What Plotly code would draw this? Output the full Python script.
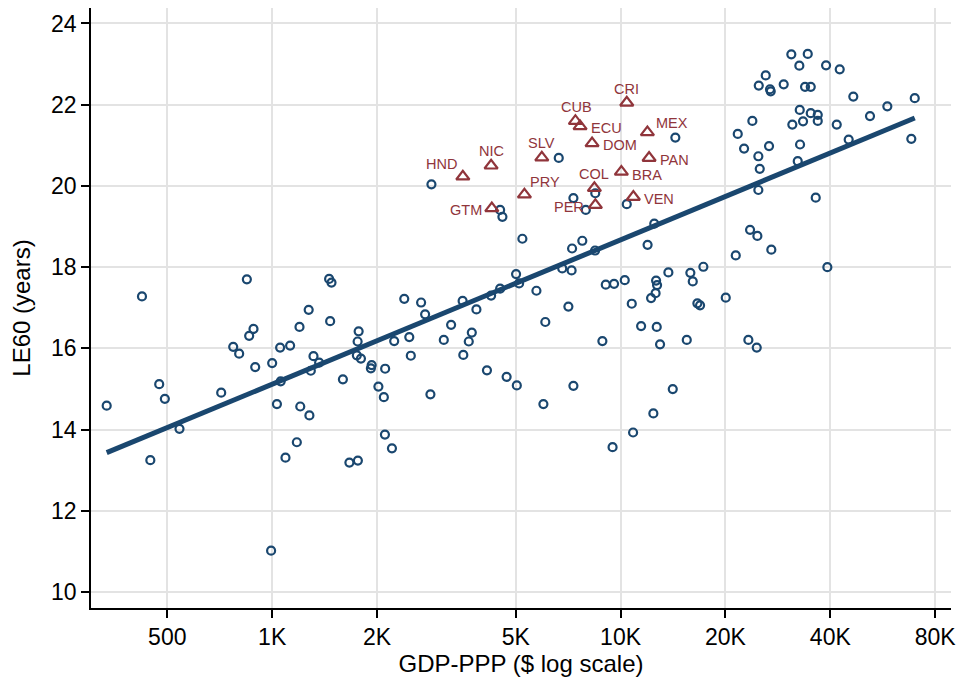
import numpy as np
import plotly.graph_objects as go

# Other countries (GDP-PPP in $, LE60 in years)
gdp_other = [
    335, 423, 447, 474, 492, 542, 714, 773, 804, 846,
    859, 884, 894, 993, 1000, 1032, 1054, 1058, 1092, 1126,
    1177, 1198, 1204, 1273, 1279, 1291, 1314, 1364, 1457, 1480,
    1467, 1596, 1666, 1762, 1750, 1759, 1771, 1798, 1930, 1920,
    2018, 2092, 2110, 2107, 2207, 2240, 2394, 2475, 2500, 2676,
    2748, 2846, 2865, 3109, 3263, 3521, 3537, 3667, 3741, 3857,
    4135, 4250, 4511, 4511, 4580, 4709, 5013, 5114, 5037, 5226,
    5734, 6005, 6081, 6646, 6801, 7083, 7235, 7258, 7322, 7322,
    7765, 7947, 8460, 8449, 8867, 9069, 9485, 9579, 10280, 10418,
    10768, 10862, 11454, 11954, 12234, 12420, 12495, 12603, 12646, 12728,
    12700, 12982, 13716, 14119, 14362, 15488, 15860, 16114, 16612, 16910,
    17285, 20040, 21411, 21694, 22621, 23271, 23532, 23893, 24597, 24697,
    24858, 24858, 24927, 25089, 26101, 26677, 26853, 26977, 27083, 29393,
    30910, 31117, 32250, 32593, 32680, 32745, 33401, 33843, 34456, 35145,
    35145, 36320, 36808, 36808, 38886, 39219, 41730, 42560, 45160, 46560,
    51990, 58300, 68310, 69880,
]
le60_other = [
    14.59, 17.28, 13.25, 15.12, 14.76, 14.02, 14.91, 16.04, 15.87, 17.70,
    16.31, 16.48, 15.54, 11.02, 15.64, 14.63, 16.02, 15.19, 13.31, 16.07,
    13.69, 16.53, 14.57, 16.95, 14.35, 15.45, 15.81, 15.65, 17.71, 17.62,
    16.67, 15.24, 13.19, 13.24, 15.83, 16.17, 16.42, 15.75, 15.59, 15.51,
    15.06, 14.80, 15.50, 13.88, 13.54, 16.18, 17.22, 16.28, 15.82, 17.13,
    16.84, 14.87, 20.04, 16.21, 16.58, 17.17, 15.84, 16.17, 16.39, 16.96,
    15.46, 17.30, 17.47, 19.41, 19.24, 15.30, 17.83, 17.60, 15.09, 18.70,
    17.42, 14.63, 16.65, 20.69, 17.97, 17.03, 17.92, 18.46, 15.08, 19.70,
    18.65, 19.41, 19.82, 18.41, 16.18, 17.57, 13.57, 17.59, 17.68, 19.55,
    17.10, 13.93, 16.55, 18.55, 17.24, 14.40, 19.07, 17.36, 17.67, 17.56,
    16.53, 16.10, 17.87, 15.00, 21.19, 16.21, 17.86, 17.65, 17.11, 17.06,
    18.01, 17.25, 18.29, 21.28, 20.92, 16.21, 18.92, 21.60, 16.02, 18.77,
    20.73, 19.90, 22.47, 20.42, 22.72, 20.98, 22.38, 22.33, 18.43, 22.50,
    23.24, 21.51, 20.61, 22.96, 21.87, 21.02, 21.59, 22.44, 23.25, 22.44,
    21.79, 19.71, 21.75, 21.60, 22.97, 18.00, 21.51, 22.87, 21.14, 22.20,
    21.72, 21.96, 21.16, 22.16,
]

# Latin American countries
latam_codes = ["CRI", "CUB", "ECU", "MEX", "DOM", "SLV", "NIC", "HND",
               "PAN", "BRA", "COL", "PRY", "VEN", "GTM", "PER"]
gdp_latam = [10418, 7419, 7652, 11939, 8283, 5942, 4250, 3526,
             12074, 10053, 8411, 5297, 10882, 4270, 8466]
le60_latam = [22.05, 21.60, 21.47, 21.32, 21.05, 20.70, 20.50, 20.23,
              20.69, 20.35, 19.95, 19.79, 19.73, 19.45, 19.53]

# label placement (style only): anchor, x shift px, y shift px
label_style = {
    "CRI": ("center", 0, 13.5), "CUB": ("center", 1, 14),
    "ECU": ("left", 10, -2), "MEX": ("left", 8, 9),
    "DOM": ("left", 10, -2), "SLV": ("center", 0, 14),
    "NIC": ("center", 0, 14.5), "HND": ("right", -5, 13),
    "PAN": ("left", 9.5, -2), "BRA": ("left", 10, -3),
    "COL": ("center", 0, 13.5), "PRY": ("left", 4.5, 12),
    "VEN": ("left", 9.5, -2), "GTM": ("right", -9, -1.5),
    "PER": ("right", -10.5, -1.7),
}

x_ticks = [500, 1000, 2000, 5000, 10000, 20000, 40000, 80000]
x_ticktext = ["500", "1K", "2K", "5K", "10K", "20K", "40K", "80K"]
y_ticks = [10, 12, 14, 16, 18, 20, 22, 24]

NAVY = "#1a476f"
RED = "#90353b"
FONT = "Liberation Sans, Arial, Helvetica, sans-serif"

# Linear fit of LE60 on log10(GDP)
all_x = np.array(gdp_other + gdp_latam, dtype=float)
all_y = np.array(le60_other + le60_latam, dtype=float)
slope, intercept = np.polyfit(np.log10(all_x), all_y, 1)
fit_x = np.array([all_x.min(), all_x.max()])
fit_y = intercept + slope * np.log10(fit_x)

fig = go.Figure()
fig.add_trace(go.Scatter(
    x=gdp_other, y=le60_other, mode="markers",
    marker=dict(symbol="circle-open", size=8, color=NAVY,
                line=dict(width=2.2, color=NAVY)),
    hoverinfo="x+y", showlegend=False))
fig.add_trace(go.Scatter(
    x=fit_x, y=fit_y, mode="lines",
    line=dict(color=NAVY, width=5), showlegend=False))
fig.add_trace(go.Scatter(
    x=gdp_latam, y=le60_latam, mode="markers",
    marker=dict(symbol="triangle-up-open", size=11.5, color=RED,
                line=dict(width=2.2, color=RED)),
    text=latam_codes, hoverinfo="text+x+y", showlegend=False))

for code, gx, ly in zip(latam_codes, gdp_latam, le60_latam):
    anchor, dx, dy = label_style[code]
    fig.add_annotation(
        x=np.log10(gx), y=ly, xref="x", yref="y", text=code,
        showarrow=False, xanchor=anchor, yanchor="middle",
        xshift=dx, yshift=dy, borderpad=0,
        font=dict(family=FONT, size=14.5, color=RED))

fig.update_layout(
    width=963, height=679,
    margin=dict(l=91, r=12, t=8, b=71),
    paper_bgcolor="white", plot_bgcolor="white",
    font=dict(family=FONT, color="black", size=24),
)
fig.update_xaxes(
    type="log", range=[np.log10(302), np.log10(88800)],
    tickvals=x_ticks, ticktext=x_ticktext,
    tickfont=dict(size=23, family=FONT, color="black"),
    ticks="outside", ticklen=8, tickwidth=1.5, tickcolor="black",
    showline=True, linecolor="black", linewidth=1.5, mirror=False,
    showgrid=True, gridcolor="#e3e3e3", gridwidth=1.5, zeroline=False,
    title=dict(text="GDP-PPP ($ log scale)", font=dict(size=24, family=FONT),
               standoff=2),
    automargin=False,
)
fig.update_yaxes(
    range=[9.61, 24.38], tickvals=y_ticks,
    tickfont=dict(size=23, family=FONT, color="black"),
    ticks="outside", ticklen=8, tickwidth=1.5, tickcolor="black",
    showline=True, linecolor="black", linewidth=1.5, mirror=False,
    showgrid=True, gridcolor="#e3e3e3", gridwidth=1.5, zeroline=False,
    title=dict(text="LE60 (years)", font=dict(size=24, family=FONT),
               standoff=14),
    automargin=False,
)

fig.write_html(
    "out.html",
    config={"displayModeBar": False},
    post_script="document.body.style.margin='0';document.body.style.overflow='hidden';",
)
